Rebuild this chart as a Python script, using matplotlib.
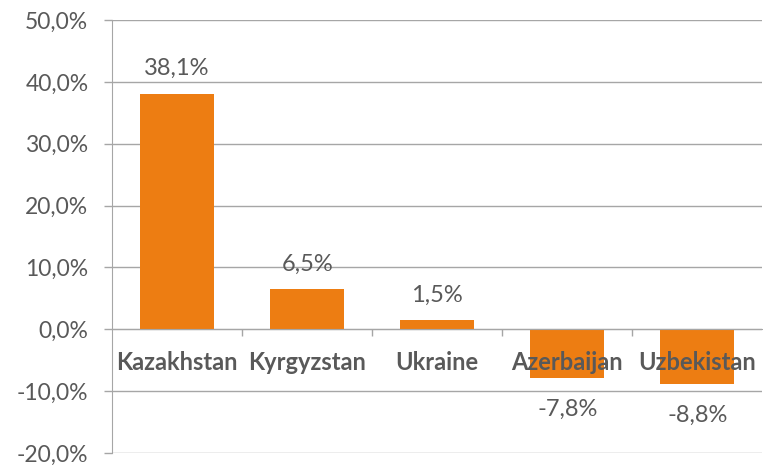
import numpy as np
import matplotlib.pyplot as plt
from matplotlib.ticker import FixedLocator, FuncFormatter

countries = ['Kazakhstan', 'Kyrgyzstan', 'Ukraine', 'Azerbaijan', 'Uzbekistan']
growth = [38.1, 6.5, 1.5, -7.8, -8.8]
y_ticks = [-20, -10, 0, 10, 20, 30, 40, 50]

plt.rcParams['font.family'] = ['Lato', 'DejaVu Sans']
text_col = '#595959'
grid_col = '#A6A6A6'
bar_col = '#ED7D12'

fig = plt.figure(figsize=(7.63, 4.65), dpi=100)
ax = fig.add_axes([0.1468, 0.0258, 0.8525, 0.9312])

x = np.arange(len(countries))
ax.bar(x, growth, width=0.57, color=bar_col, zorder=2)

ax.set_xlim(-0.5, len(countries) - 0.5)
ax.set_ylim(-20, 50)
ax.set_yticks(y_ticks)
ax.yaxis.set_major_formatter(FuncFormatter(lambda v, p: f'{v:.1f}%'.replace('.', ',')))
ax.tick_params(axis='y', length=6, width=1, color=grid_col, labelcolor=text_col,
               labelsize=16.5, pad=11)
ax.grid(axis='y', color=grid_col, linewidth=1, zorder=0)
ax.set_axisbelow(True)

# category separators on the zero line
ax.set_xticks([])
ax.xaxis.set_minor_locator(FixedLocator(x[:-1] + 0.5))
ax.tick_params(axis='x', which='minor', length=5, width=1, color=grid_col, direction='out')
ax.spines['bottom'].set_position(('data', 0))
ax.spines['bottom'].set_color(grid_col)
ax.spines['left'].set_color(grid_col)
ax.spines['top'].set_visible(False)
ax.spines['right'].set_visible(False)

for i, (name, v) in enumerate(zip(countries, growth)):
    ax.annotate(name, xy=(i, 0), xytext=(0, -24), textcoords='offset points',
                ha='center', va='center', fontsize=17, fontweight='bold',
                color=text_col, zorder=5)
    label = f'{v:.1f}%'.replace('.', ',')
    off = 18 if v >= 0 else -23
    ax.annotate(label, xy=(i, v), xytext=(0, off), textcoords='offset points',
                ha='center', va='center', fontsize=17, color=text_col, zorder=5)

fig.savefig('out.png', dpi=100)
